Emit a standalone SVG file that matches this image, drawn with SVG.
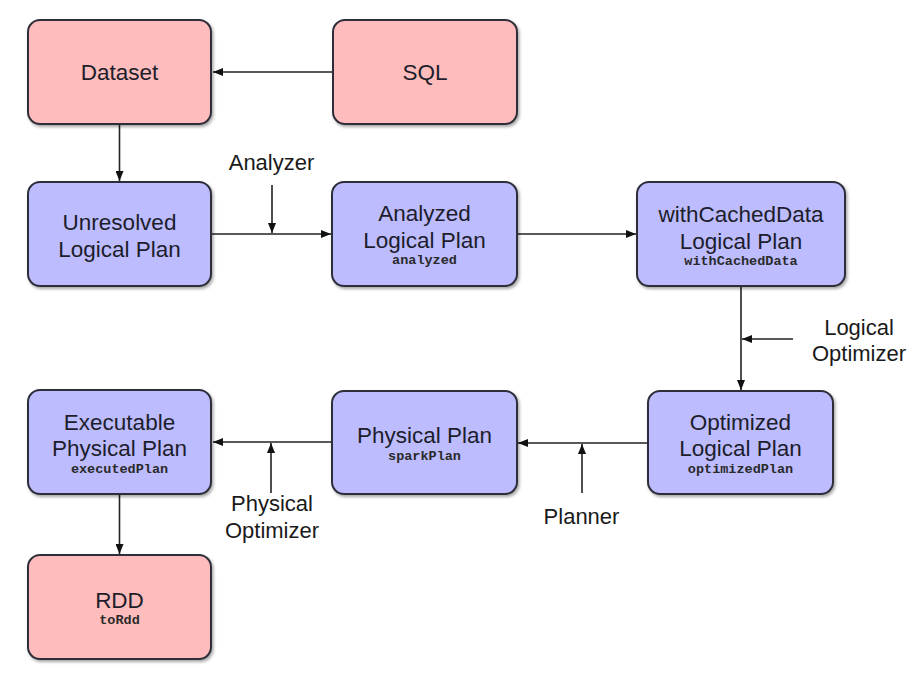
<svg xmlns="http://www.w3.org/2000/svg" width="924" height="685" viewBox="0 0 924 685">
<style>
  .box { stroke: #2f2f3a; stroke-width: 2; }
  .pink { fill: #ffbcbc; }
  .blue { fill: #bcbcff; }
  .t { font-family: "Liberation Sans", Arial, sans-serif; font-size: 22.5px; fill: #1d1d2b; text-anchor: middle; }
  .m { font-family: "Liberation Mono", "Courier New", monospace; font-size: 13.5px; font-weight: bold; fill: #2a2a2a; text-anchor: middle; }
  .lbl { font-family: "Liberation Sans", Arial, sans-serif; font-size: 22px; fill: #1a1a1a; text-anchor: middle; }
  .c { stroke: #222; stroke-width: 1.6; fill: none; marker-end: url(#ah); }
</style>
<defs>
  <marker id="ah" viewBox="0 0 10 8" refX="10" refY="4" markerWidth="10" markerHeight="8" markerUnits="userSpaceOnUse" orient="auto">
    <path d="M0,0 L10,4 L0,8 z" fill="#111"/>
  </marker>
  <filter id="sh" x="-10%" y="-10%" width="130%" height="130%">
    <feDropShadow dx="1.5" dy="2" stdDeviation="1.5" flood-color="#000" flood-opacity="0.35"/>
  </filter>
</defs>
<rect width="924" height="685" fill="#ffffff"/>

<g id="connectors">
  <line class="c" x1="333" y1="72" x2="213" y2="72"/>
  <line class="c" x1="119.5" y1="124" x2="119.5" y2="181"/>
  <line class="c" x1="212" y1="234" x2="331" y2="234"/>
  <line class="c" x1="272" y1="185" x2="272" y2="233"/>
  <line class="c" x1="517" y1="234" x2="636" y2="234"/>
  <line class="c" x1="741" y1="286" x2="741" y2="390"/>
  <line class="c" x1="793" y1="339" x2="742" y2="339"/>
  <line class="c" x1="648" y1="443" x2="518" y2="443"/>
  <line class="c" x1="582" y1="493" x2="582" y2="444"/>
  <line class="c" x1="332" y1="442" x2="213" y2="442"/>
  <line class="c" x1="271" y1="493" x2="271" y2="443"/>
  <line class="c" x1="119.5" y1="494" x2="119.5" y2="554"/>
</g>

<g id="labels">
  <text class="lbl" x="271.5" y="170">Analyzer</text>
  <text class="lbl" x="859" y="335">Logical</text>
  <text class="lbl" x="859" y="361">Optimizer</text>
  <text class="lbl" x="581.5" y="524">Planner</text>
  <text class="lbl" x="272" y="511">Physical</text>
  <text class="lbl" x="272" y="538">Optimizer</text>
</g>

<g id="dataset">
  <rect class="box pink" filter="url(#sh)" x="28" y="20" width="183" height="104" rx="12"/>
  <text class="t" x="119.5" y="80">Dataset</text>
</g>
<g id="sql">
  <rect class="box pink" filter="url(#sh)" x="333" y="20" width="184" height="104" rx="12"/>
  <text class="t" x="425" y="80">SQL</text>
</g>
<g id="unresolved">
  <rect class="box blue" filter="url(#sh)" x="28" y="182" width="183" height="104" rx="12"/>
  <text class="t" x="119.5" y="230">Unresolved</text>
  <text class="t" x="119.5" y="257">Logical Plan</text>
</g>
<g id="analyzed">
  <rect class="box blue" filter="url(#sh)" x="332" y="182" width="185" height="104" rx="12"/>
  <text class="t" x="424.5" y="221">Analyzed</text>
  <text class="t" x="424.5" y="248">Logical Plan</text>
  <text class="m" x="424.5" y="264">analyzed</text>
</g>
<g id="withCachedData">
  <rect class="box blue" filter="url(#sh)" x="637" y="182" width="208" height="104" rx="12"/>
  <text class="t" x="741" y="222">withCachedData</text>
  <text class="t" x="741" y="249">Logical Plan</text>
  <text class="m" x="741" y="265">withCachedData</text>
</g>
<g id="optimized">
  <rect class="box blue" filter="url(#sh)" x="648" y="391" width="185" height="103" rx="12"/>
  <text class="t" x="740.5" y="430">Optimized</text>
  <text class="t" x="740.5" y="456">Logical Plan</text>
  <text class="m" x="740.5" y="473">optimizedPlan</text>
</g>
<g id="physicalPlan">
  <rect class="box blue" filter="url(#sh)" x="332" y="391" width="185" height="103" rx="12"/>
  <text class="t" x="424.5" y="443">Physical Plan</text>
  <text class="m" x="424.5" y="460">sparkPlan</text>
</g>
<g id="executable">
  <rect class="box blue" filter="url(#sh)" x="28" y="390" width="183" height="104" rx="12"/>
  <text class="t" x="119.5" y="430">Executable</text>
  <text class="t" x="119.5" y="456">Physical Plan</text>
  <text class="m" x="119.5" y="473">executedPlan</text>
</g>
<g id="rdd">
  <rect class="box pink" filter="url(#sh)" x="28" y="555" width="183" height="104" rx="12"/>
  <text class="t" x="119.5" y="608">RDD</text>
  <text class="m" x="119.5" y="624">toRdd</text>
</g>
</svg>
